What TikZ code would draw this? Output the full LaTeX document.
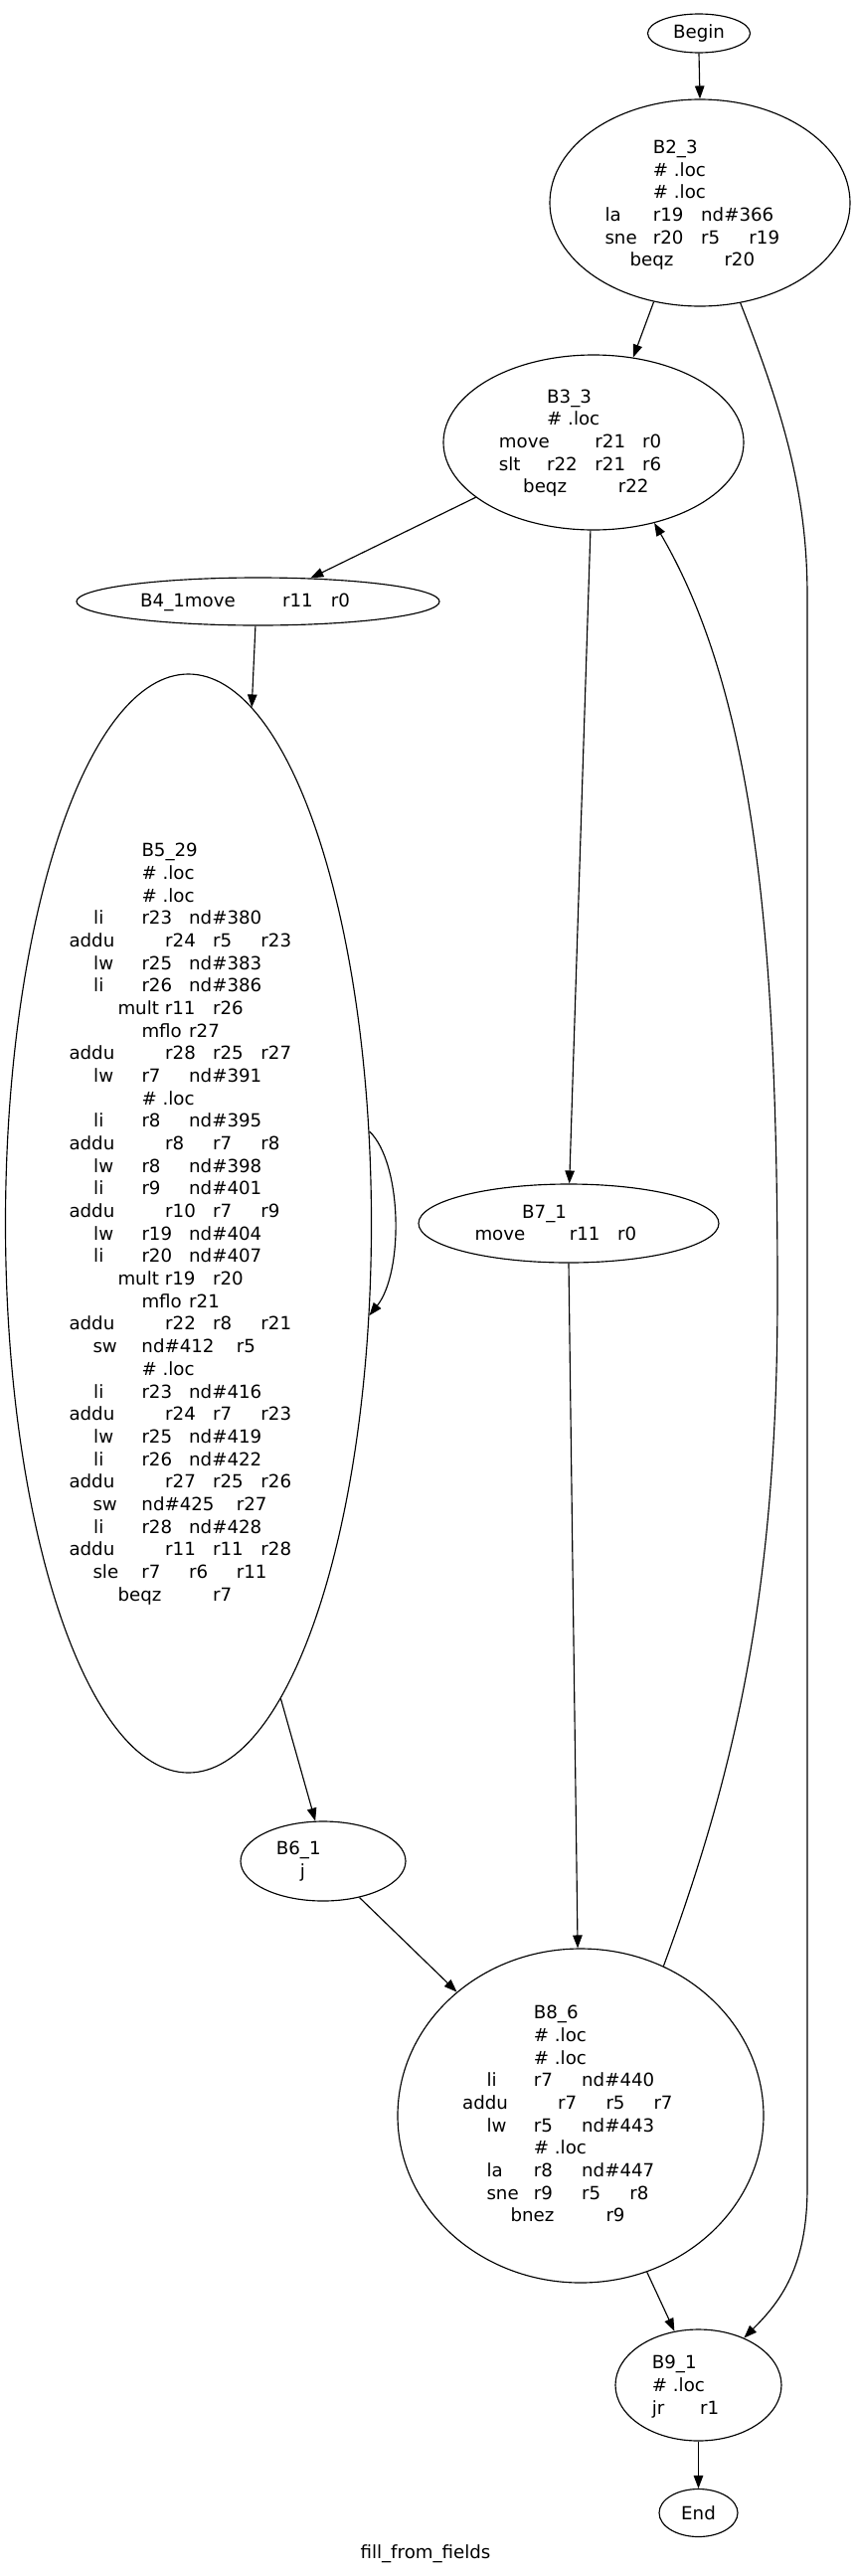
\documentclass[tikz,border=0pt]{standalone}
\usepackage{fontspec}
\setmainfont{DejaVu Sans}
\usetikzlibrary{shapes.geometric,arrows.meta}
\newcommand\cl[2]{\makebox[#1pt][l]{#2}}
\begin{document}
\begin{tikzpicture}[x=1pt,y=-1pt,
  blk/.style={draw, ellipse, inner sep=0pt, line width=1.15pt},
  txt/.style={anchor=base west, inner sep=0pt, font=\fontsize{18.2}{22}\selectfont},
  ctxt/.style={inner sep=0pt, font=\fontsize{18.2}{22}\selectfont},
  conn/.style={-{Triangle[length=13pt,width=9.5pt]}, line width=1.15pt}]
\fill[white] (0,0) rectangle (860,2591);
\useasboundingbox (0,0) rectangle (860,2591);
% ellipses
\node[blk, minimum width=103pt, minimum height=39pt, font=\fontsize{18.2}{22}\selectfont] (Begin) at (703,33.5) {Begin};
\node[blk, minimum width=302pt, minimum height=208pt] (B23) at (704,204) {};
\node[blk, minimum width=302pt, minimum height=176pt] (B33) at (597,445) {};
\node[blk, minimum width=365pt, minimum height=48pt] (B41) at (259.5,605) {};
\node[blk, minimum width=368pt, minimum height=1105pt] (B529) at (189.5,1230.5) {};
\node[blk, minimum width=302pt, minimum height=79pt] (B71) at (572,1230.5) {};
\node[blk, minimum width=166pt, minimum height=80pt] (B61) at (325,1872) {};
\node[blk, minimum width=368pt, minimum height=336pt] (B86) at (584,2128) {};
\node[blk, minimum width=167pt, minimum height=112pt] (B91) at (702.5,2399) {};
\node[blk, minimum width=79pt, minimum height=48pt, font=\fontsize{18.2}{22}\selectfont] (End) at (702.5,2527.5) {End};
\node[ctxt] (title) at (428,2569) {fill\_from\_fields};
% B2_3 text
\node[txt] (t23a) at (656.7,154.3) {B2\_3};
\node[txt] (t23b) at (656.7,177) {\# .loc};
\node[txt] (t23c) at (656.7,199.7) {\# .loc};
\node[txt] (t23d) at (608.3,222.3) {\cl{48.4}{la}\cl{48.3}{r19}nd\#366};
\node[txt] (t23e) at (608.3,245) {\cl{48.4}{sne}\cl{48.3}{r20}\cl{48.3}{r5}r19};
\node[txt] (t23f) at (633.3,267.7) {\cl{95}{beqz}r20};
% B3_3 text
\node[txt] (t33a) at (550,405) {B3\_3};
\node[txt] (t33b) at (550,427.7) {\# .loc};
\node[txt] (t33c) at (501.7,450.4) {\cl{96.6}{move}\cl{47.7}{r21}r0};
\node[txt] (t33d) at (501.7,473) {\cl{48.3}{slt}\cl{48.3}{r22}\cl{47.7}{r21}r6};
\node[txt] (t33e) at (526,495.7) {\cl{95.7}{beqz}r22};
% B4_1 text
\node[txt] (t41) at (141,610.7) {\cl{143}{B4\_1move}\cl{48.7}{r11}r0};
% B5_29 text
\newcommand\lA[3]{\cl{48.3}{#1}\cl{47.7}{#2}#3}
\newcommand\lB[4]{\cl{96.7}{#1}\cl{48}{#2}\cl{48.3}{#3}#4}
\foreach \i/\x/\t in {
 0/142.3/{B5\_29},
 1/142.3/{\# .loc},
 2/142.3/{\# .loc},
 3/94/{\lA{li}{r23}{nd\#380}},
 4/69.3/{\lB{addu}{r24}{r5}{r23}},
 5/94/{\lA{lw}{r25}{nd\#383}},
 6/94/{\lA{li}{r26}{nd\#386}},
 7/118.3/{\cl{47.4}{mult}\cl{48.3}{r11}r26},
 8/142.3/{\cl{47.7}{mflo}r27},
 9/69.3/{\lB{addu}{r28}{r25}{r27}},
 10/94/{\lA{lw}{r7}{nd\#391}},
 11/142.3/{\# .loc},
 12/94/{\lA{li}{r8}{nd\#395}},
 13/69.3/{\lB{addu}{r8}{r7}{r8}},
 14/94/{\lA{lw}{r8}{nd\#398}},
 15/94/{\lA{li}{r9}{nd\#401}},
 16/69.3/{\lB{addu}{r10}{r7}{r9}},
 17/94/{\lA{lw}{r19}{nd\#404}},
 18/94/{\lA{li}{r20}{nd\#407}},
 19/118.3/{\cl{47.4}{mult}\cl{48.3}{r19}r20},
 20/142.3/{\cl{47.7}{mflo}r21},
 21/69.3/{\lB{addu}{r22}{r8}{r21}},
 22/93.3/{\cl{49}{sw}\cl{95.4}{nd\#412}r5},
 23/142.3/{\# .loc},
 24/94/{\lA{li}{r23}{nd\#416}},
 25/69.3/{\lB{addu}{r24}{r7}{r23}},
 26/94/{\lA{lw}{r25}{nd\#419}},
 27/94/{\lA{li}{r26}{nd\#422}},
 28/69.3/{\lB{addu}{r27}{r25}{r26}},
 29/93.3/{\cl{49}{sw}\cl{95.4}{nd\#425}r27},
 30/94/{\lA{li}{r28}{nd\#428}},
 31/69.3/{\lB{addu}{r11}{r11}{r28}},
 32/93.3/{\cl{49}{sle}\cl{47.7}{r7}\cl{47.7}{r6}r11},
 33/118.3/{\cl{95.7}{beqz}r7}}
 {\node[txt] (t529-\i) at (\x,{861.7+22.68*\i}) {\t};}
% B7_1 text
\node[txt] (t71a) at (525,1225) {B7\_1};
\node[txt] (t71b) at (477.3,1247.7) {\cl{95.4}{move}\cl{48.3}{r11}r0};
% B6_1 text
\node[txt] (t61a) at (277.7,1865.7) {B6\_1};
\node[txt] (t61b) at (301.7,1888.4) {j};
% B8_6 text
\foreach \i/\x/\t in {
 0/536.7/{B8\_6},
 1/536.7/{\# .loc},
 2/536.7/{\# .loc},
 3/489.3/{\cl{47.4}{li}\cl{48.3}{r7}nd\#440},
 4/465/{\cl{96}{addu}\cl{48.3}{r7}\cl{48}{r5}r7},
 5/489.3/{\cl{47.4}{lw}\cl{48.3}{r5}nd\#443},
 6/536.7/{\# .loc},
 7/489.3/{\cl{47.4}{la}\cl{48.3}{r8}nd\#447},
 8/489.3/{\cl{47.4}{sne}\cl{48.3}{r9}\cl{48.3}{r5}r8},
 9/513.3/{\cl{96}{bnez}r9}}
 {\node[txt] (t86-\i) at (\x,{2030.7+22.68*\i}) {\t};}
% B9_1 text
\node[txt] (t91a) at (655.7,2382.7) {B9\_1};
\node[txt] (t91b) at (655.7,2405.4) {\# .loc};
\node[txt] (t91c) at (655.7,2428) {\cl{48.3}{jr}r1};
% connectors
\draw[conn] (Begin.south) -- (B23.north);
\draw[conn] (B23.245.5) -- (B33.65.9);
\draw[conn] (B23.292.7) .. controls (790,420) and (812,500) .. (812,600) -- (812,2200) .. controls (812,2280) and (785,2315) .. (B91.46.3);
\draw[conn] (B33.205.6) -- (B41.24.6);
\draw[conn] (B33.268) -- (B71.89.5);
\draw[conn] (B41.264.8) -- (B529.83.5);
\draw[conn] (B529.27) .. controls (405,1170) and (406,1280) .. (B529.333.9);
\draw[conn] (B529.281.9) -- (B61.101.3);
\draw[conn] (B71.270) -- (B86.91);
\draw[conn] (B61.315.3) -- (B86.135.2);
\draw[conn] (B86.61.9) .. controls (740,1780) and (782,1600) .. (782,1300) .. controls (782,950) and (760,700) .. (B33.307.9);
\draw[conn] (B86.293.9) -- (B91.114.8);
\draw[conn] (B91.south) -- (End.north);
\end{tikzpicture}
\end{document}
